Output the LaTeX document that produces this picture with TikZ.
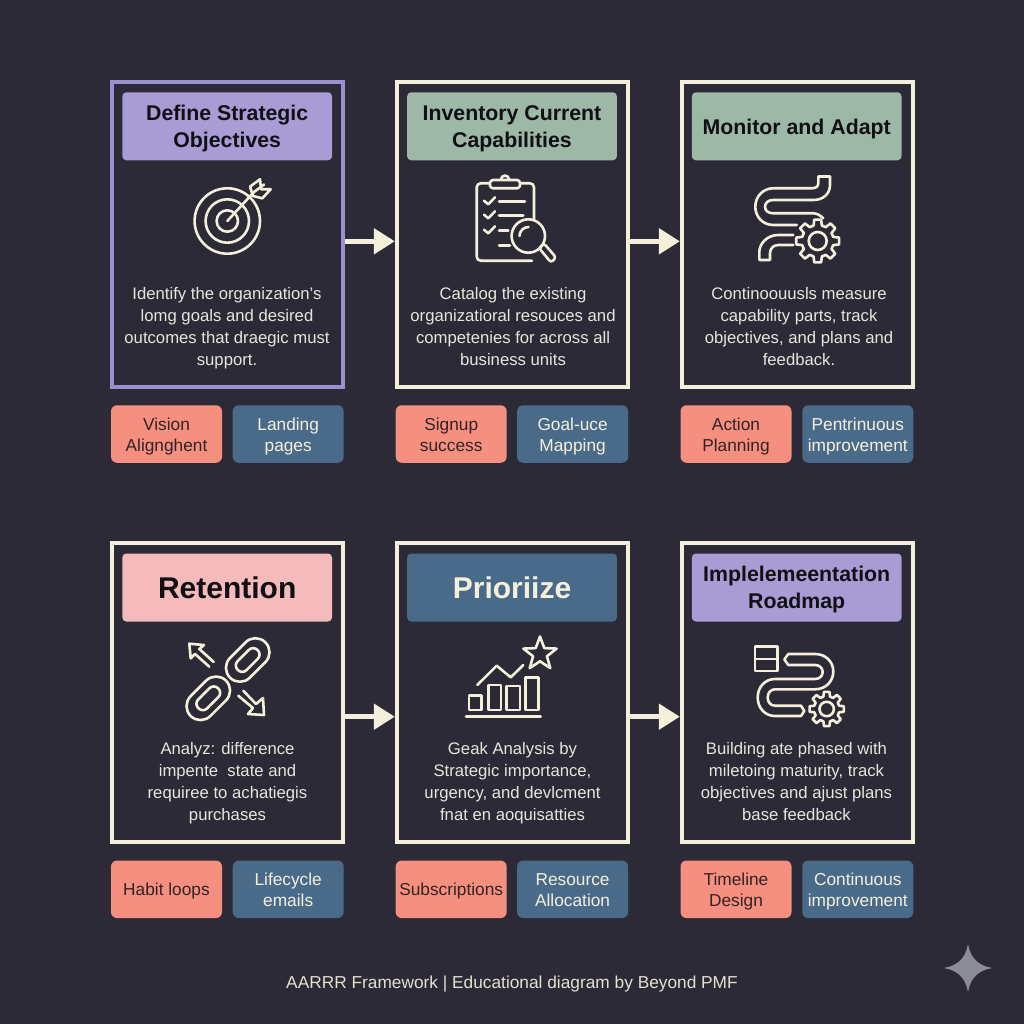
\documentclass[tikz,border=0pt]{standalone}
\usepackage{fontspec}
\setmainfont{Liberation Sans}
\usetikzlibrary{arrows.meta,shapes.geometric}
\definecolor{pagebg}{HTML}{2B2A36}
\definecolor{cream}{HTML}{F5F0DC}
\definecolor{lilac}{HTML}{A99BD3}
\definecolor{lilacedge}{HTML}{9C8FD0}
\definecolor{sage}{HTML}{9DB8A6}
\definecolor{blush}{HTML}{F5BABB}
\definecolor{steel}{HTML}{4A6A8A}
\definecolor{salmon}{HTML}{F58F80}
\definecolor{sparkle}{HTML}{8C8C96}
\definecolor{inktext}{HTML}{101014}
\definecolor{bodytext}{HTML}{E8E6DC}

\begin{document}
\begin{tikzpicture}[x=1pt,y=-1pt,
    struts/.style 2 args ={execute at begin node=\rule{0pt}{#1pt}, execute at end node=\rule[-#2pt]{0pt}{#2pt}},
    card/.style ={rectangle, draw=cream, line width=4pt, minimum width=230.7pt, minimum height=304.7pt},
    lowcard/.style ={card, minimum height=298.5pt},
    head/.style ={rectangle, struts={21}{5}, rounded corners=4pt, minimum width=209.7pt, minimum height=68pt, inner sep=0pt, align=center, text=inktext, font=\fontsize{21.3}{27}\selectfont\bfseries},
    headtwo/.style ={head, struts={46.5}{5}},
    bighead/.style ={head, struts={26}{4.4}, font=\fontsize{30}{34}\selectfont\bfseries},
    blurb/.style ={struts={15}{4}, align=center, inner sep=0pt, text=bodytext, font=\fontsize{16.7}{22}\selectfont},
    tag/.style ={rectangle, struts={16}{4}, rounded corners=6pt, minimum width=111pt, minimum height=57.5pt, inner sep=0pt, align=center, font=\fontsize{17.3}{21}\selectfont},
    tagtwo/.style ={struts={39}{4}},
    tagred/.style ={tag, fill=salmon, text=inktext!85!salmon},
    tagblue/.style ={tag, fill=steel, text=cream},
    flow/.style ={draw=cream, line width=5pt, -{Triangle[length=21pt,width=25pt]}},
    icon/.style ={draw=cream, line width=2.6pt, line join=round, line cap=round},
    gearicon/.pic ={
      \draw[icon] (0,0) circle (9);
      \draw[icon] (-15:16) \foreach \a in {0,45,...,315} {-- (\a-15:16) -- (\a-9:21.7) -- (\a+9:21.7) -- (\a+15:16)} -- cycle;
    }]
   \fill[pagebg] (0,0) rectangle (1024,1024);
   \useasboundingbox (0,0) rectangle (1024,1024);

   % top row
   \node[card,draw=lilacedge] (define) at (227.3,234.3) {};
   \node[card] (inventory) at (512.2,234.3) {};
   \node[card] (monitor) at (797.2,234.3) {};

   \node[headtwo,fill=lilac] (defineHead) at (227.2,126.3) {Define Strategic\\Objectives};
   \node[headtwo,fill=sage] (inventoryHead) at (512,126.3) {Inventory Current\\Capabilities};
   \node[head,fill=sage] (monitorHead) at (796.7,126.3) {Monitor and Adapt};

   \node[blurb] (defineText) at (227,328.5) {Identify the organization's\\lomg goals and desired\\outcomes that draegic must\\support.};
   \node[blurb] (inventoryText) at (513,328.5) {Catalog the existing\\organizatioral resouces and\\competenies for across all\\business units};
   \node[blurb] (monitorText) at (799,328.5) {Continoouusls measure\\capability parts, track\\objectives, and plans and\\feedback.};

   \node[tagred,tagtwo] (defineTagA) at (166.5,434) {Vision\\Alignghent};
   \node[tagblue,tagtwo] (defineTagB) at (288.2,434) {Landing\\pages};
   \node[tagred,tagtwo] (inventoryTagA) at (451.2,434) {Signup\\success};
   \node[tagblue,tagtwo] (inventoryTagB) at (572.6,434) {Goal-uce\\Mapping};
   \node[tagred,tagtwo] (monitorTagA) at (736,434) {Action\\Planning};
   \node[tagblue,tagtwo] (monitorTagB) at (857.8,434) {Pentrinuous\\improvement};

   % bottom row
   \node[lowcard] (retention) at (227.3,692.7) {};
   \node[lowcard] (prioritize) at (512.2,692.7) {};
   \node[lowcard] (roadmap) at (797.2,692.7) {};

   \node[bighead,fill=blush] (retentionHead) at (227.2,587.5) {Retention};
   \node[bighead,fill=steel,text=cream] (prioritizeHead) at (512,587.5) {Prioriize};
   \node[headtwo,fill=lilac] (roadmapHead) at (796.7,587.5) {Implelemeentation\\Roadmap};

   \node[blurb] (retentionText) at (227.5,783.5) {Analyz: difference\\impente\ \ state and\\requiree to achatiegis\\purchases};
   \node[blurb] (prioritizeText) at (512.5,783.5) {Geak Analysis by\\Strategic importance,\\urgency, and devlcment\\fnat en aoquisatties};
   \node[blurb] (roadmapText) at (796.5,783.5) {Building ate phased with\\miletoing maturity, track\\objectives and ajust plans\\base feedback};

   \node[tagred] (retentionTagA) at (166.5,889.3) {Habit loops};
   \node[tagblue,tagtwo] (retentionTagB) at (288.2,889.3) {Lifecycle\\emails};
   \node[tagred] (prioritizeTagA) at (451.2,889.3) {Subscriptions};
   \node[tagblue,tagtwo] (prioritizeTagB) at (572.6,889.3) {Resource\\Allocation};
   \node[tagred,tagtwo] (roadmapTagA) at (736,889.3) {Timeline\\Design};
   \node[tagblue,tagtwo] (roadmapTagB) at (857.8,889.3) {Continuous\\improvement};

   \draw[flow] ([yshift=-7pt]define.east) to ([yshift=-7pt]inventory.west);
   \draw[flow] ([yshift=-7pt]inventory.east) to ([yshift=-7pt]monitor.west);
   \draw[flow] ([yshift=-24pt]retention.east) to ([yshift=-24pt]prioritize.west);
   \draw[flow] ([yshift=-24pt]prioritize.east) to ([yshift=-24pt]roadmap.west);

   \node[text=cream!92!pagebg,font=\fontsize{17.3}{20}\selectfont,inner sep=0pt] (footer) at (512,984) {AARRR Framework | Educational diagram by Beyond PMF};

   % target
   \draw[icon] (227.3,221) circle (32.7);
   \draw[icon] (227.3,221) circle (21.7);
   \draw[icon] (227.3,221) circle (10.7);
   \draw[icon] (227.3,221) -- (254,192);
   \draw[icon] (250,186.7) -- (260,179.3) -- (261,189.3) -- (270.7,189.3) -- (262.3,198.3) -- (253,196) -- cycle;
   \draw[icon] (254,192) -- (264,184.5);

   % clipboard
   \draw[icon,rounded corners=4pt] (534,220) -- (534,183.3) -- (476.7,183.3) -- (476.7,260.7) -- (532,260.7);
   \draw[icon,fill=pagebg,rounded corners=3pt] (490,180) rectangle (520,188.3);
   \draw[icon] (501,179.5) arc (180:360:4);
   \draw[icon] (484,200.7) -- (488.3,204.3) -- (495,197.3);
   \draw[icon] (484,214.7) -- (488.3,218.3) -- (495,211.3);
   \draw[icon] (484,229.7) -- (488.3,233.3) -- (495,226.3);
   \draw[icon] (499,201.7) -- (525,201.7);
   \draw[icon] (499,215.7) -- (523.3,215.7);
   \draw[icon] (499,230.7) -- (508.3,230.7);
   \draw[icon] (499,245.7) -- (510,245.7);
   \draw[icon,fill=pagebg] (528.3,236) circle (16.7);
   \draw[icon] (519.5,236) arc (180:270:9);
   \draw[icon,rounded corners=2.5pt] (539,248) -- (544,243.5) -- (556,257.5) -- (551,262.5) -- cycle;

   % pipe and gear
   \draw[icon] (818.3,176.7) -- (830,176.7);
   \draw[icon] (818.3,176.7) -- (818.3,183) .. controls (818.3,186.5) and (816,188.3) .. (811.7,188.3) -- (773.3,188.3) .. controls (763,188.3) and (755.3,196.5) .. (755.3,206.7) .. controls (755.3,217) and (763,225) .. (773.3,225) -- (796.7,225);
   \draw[icon] (830,176.7) -- (830,185) .. controls (830,194) and (823,200) .. (813.3,200) -- (773.3,200) .. controls (768,200) and (765,203) .. (765,206.7) .. controls (765,210.5) and (768,213.3) .. (773.3,213.3) -- (813.3,213.3) .. controls (816.5,213.3) and (820,215) .. (823.3,218.3);
   \draw[icon] (793.3,235) -- (778.3,235) .. controls (766,235) and (759.3,245) .. (759.3,251.7) -- (759.3,260) -- (770,260) -- (770,253.3) .. controls (770,249) and (773,245) .. (778.3,245) -- (793.3,245);
   \pic at (817.7,241) {gearicon};

   % chain links
   \draw[icon,rounded corners=14pt,rotate around={45:(247.7,660)}] (222.7,646) rectangle (272.7,674);
   \draw[icon,rounded corners=6pt,rotate around={45:(247.7,660)}] (233.7,653.7) rectangle (261.7,666.3);
   \draw[icon,rounded corners=14pt,rotate around={45:(208.3,698.3)}] (183.3,684.3) rectangle (233.3,712.3);
   \draw[icon,rounded corners=6pt,rotate around={45:(208.3,698.3)}] (194.3,692) rectangle (222.3,704.6);
   \draw[icon] (213.7,662) -- (199.3,649) -- (204,645) -- (189.3,643.7) -- (190.7,658.3) -- (195,654) -- (209.3,666.7);
   \draw[icon] (243.3,690.7) -- (256,704) -- (263,698) -- (264,715) -- (248,714) -- (253,708) -- (238.3,695.7);

   % bars and star
   \draw[icon] (466,716.7) -- (540.7,716.7);
   \draw[icon] (469,695.7) rectangle (481.7,710);
   \draw[icon] (488.3,685) rectangle (501,710);
   \draw[icon] (506.7,686) rectangle (520,710);
   \draw[icon] (525.3,677.3) rectangle (538.3,710);
   \draw[icon] (477.3,685) -- (496.7,665.7) -- (510.7,677.3) -- (523.3,665);
   \node[star, star points=5, star point ratio=2.4, icon, minimum size=35pt, inner sep=0pt] (starmark) at (540,654) {};

   % road and gear
   \draw[icon] (755,646.7) rectangle (777.3,671);
   \draw[icon] (755,659) -- (777.3,659);
   \draw[icon] (788.3,654) -- (784.3,659.5) -- (788.3,665) -- (815,665) .. controls (819.5,665) and (822.7,668) .. (822.7,672) .. controls (822.7,676) and (819.5,679) .. (815,679) -- (775,679) .. controls (765,679) and (757.7,687) .. (757.7,697.5) .. controls (757.7,708) and (765,716) .. (775,716) -- (801,716) -- (804.3,711) -- (801,705.7) -- (775,705.7) .. controls (770.5,705.7) and (767.7,702) .. (767.7,697.5) .. controls (767.7,693) and (770.5,689.3) .. (775,689.3) -- (815,689.3) .. controls (825.5,689.3) and (833.3,681.5) .. (833.3,671.5) .. controls (833.3,661.5) and (825.5,654) .. (815,654) -- cycle;
   \pic[scale=0.8] at (826.7,709) {gearicon};

   % sparkle
   \fill[sparkle] (968,944) .. controls (970.5,958) and (978,965.5) .. (992,968) .. controls (978,970.5) and (970.5,978) .. (968,992) .. controls (965.5,978) and (958,970.5) .. (944,968) .. controls (958,965.5) and (965.5,958) .. (968,944) -- cycle;
 \end{tikzpicture}
\end{document}
